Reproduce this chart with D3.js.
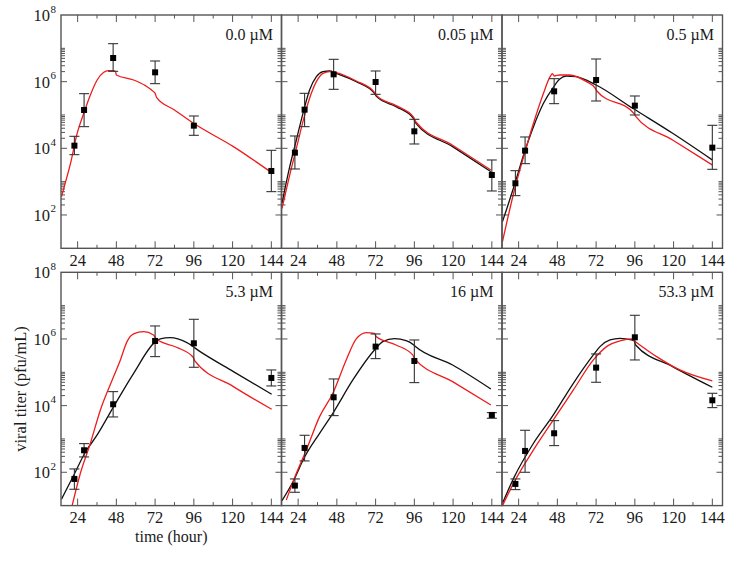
<!DOCTYPE html>
<html>
<head>
<meta charset="utf-8">
<script src="https://cdn.jsdelivr.net/npm/d3@7"></script>
<style>
  body { margin: 0; background: #fff; }
  svg { display: block; }
  text { font-family: "Liberation Serif", "Times New Roman", Times, "DejaVu Serif", serif; fill: #1a1a1a; }
</style>
</head>
<body>
<svg id="chart" width="750" height="563"></svg>
<script>
// ---------------- DATA ----------------
const concentrations = ["0.0 µM", "0.05 µM", "0.5 µM", "5.3 µM", "16 µM", "53.3 µM"];
const sampleTimes = [22, 28, 46, 72, 96, 144];               // hours
const xTickValues = [24, 48, 72, 96, 120, 144];
const yTickExponents = [2, 4, 6, 8];

// measured viral titer, log10(pfu/mL): mean, upper and lower error bar ends
const meanLog = [
  [4.08, 5.15, 6.71, 6.28, 4.68, 3.32],
  [3.87, 5.16, 6.22, 5.99, 4.51, 3.20],
  [2.95, 3.93, 5.71, 6.05, 5.28, 4.02],
  [1.80, 2.66, 4.04, 5.94, 5.87, 4.83],
  [1.60, 2.73, 4.25, 5.77, 5.34, 3.72],
  [1.65, 2.64, 3.17, 5.14, 6.05, 4.16]
];
const upperLog = [
  [4.36, 5.64, 7.14, 6.62, 4.97, 3.94],
  [4.37, 5.65, 6.67, 6.32, 4.87, 3.65],
  [3.33, 4.34, 6.09, 6.68, 5.57, 4.69],
  [2.10, 2.86, 4.42, 6.39, 6.59, 5.07],
  [1.80, 3.11, 4.80, 6.15, 5.97, 3.79],
  [1.80, 3.26, 3.55, 5.55, 6.71, 4.37]
];
const lowerLog = [
  [3.81, 4.65, 6.31, 5.94, 4.39, 2.70],
  [3.38, 4.65, 5.77, 5.62, 4.13, 2.72],
  [2.58, 3.54, 5.34, 5.42, 5.00, 3.37],
  [1.49, 2.46, 3.66, 5.47, 5.15, 4.59],
  [1.40, 2.34, 3.70, 5.41, 4.69, 3.62],
  [1.48, 2.00, 2.80, 4.70, 5.37, 3.94]
];

// model curves: [hour, log10 titer]
const blackCurves = [
  null,
  [[14,2.35],[18.8,3.45],[22.9,4.25],[27,5.05],[31.1,5.75],[35.3,6.15],[39.4,6.3],[43.5,6.32],[47.5,6.25],[60,6.0],[71.3,5.65],[72.7,5.55],[84.7,5.25],[95.4,4.9],[97,4.75],[119.7,4.05],[143.4,3.3]],
  [[14,1.8],[21.4,2.9],[27.4,3.85],[33.2,4.65],[39.4,5.35],[45.5,5.83],[49.3,6.07],[53.5,6.17],[59.6,6.15],[72,5.9],[94.7,5.2],[119.4,4.45],[144,3.65]],
  [[14,1.19],[22.2,1.97],[28.4,2.57],[36.1,3.12],[46.3,3.97],[58.7,4.97],[72.3,5.92],[75.2,6.0],[81.4,6.04],[91.7,5.89],[99.9,5.62],[120.5,5.02],[144.2,4.34]],
  [[14,1.15],[21.4,1.77],[27.6,2.42],[37.3,3.17],[45.5,3.77],[57.9,4.77],[71.7,5.69],[76.4,5.92],[83.7,6.01],[90.9,5.95],[95.6,5.82],[96.5,5.78],[119.7,5.22],[143.4,4.5]],
  [[14,1.07],[21.4,1.87],[33.2,2.87],[45.6,3.73],[46.4,3.79],[57.9,4.67],[70.3,5.52],[74.4,5.77],[80.6,5.97],[86.8,6.02],[94,5.97],[95.5,5.95],[96.5,5.82],[119.4,5.17],[144,4.55]]
];
const redCurves = [
  [[14,2.55],[16,2.9],[19.6,3.55],[23.7,4.45],[27.8,5.05],[31.9,5.6],[36.1,6.05],[40.2,6.28],[43,6.33],[46,6.33],[47.5,6.3],[48,6.2],[58.7,6.05],[66,5.88],[71,5.7],[72,5.65],[73,5.52],[84,5.15],[95.8,4.75],[120.5,4.05],[144.2,3.27]],
  [[14,2.2],[18.8,3.2],[22.9,4.0],[27,4.8],[31.1,5.5],[35.3,6.0],[39.4,6.25],[43.5,6.3],[47.5,6.27],[60,6.02],[71.3,5.68],[72.7,5.58],[84.7,5.28],[95.4,4.94],[97,4.79],[119.7,4.09],[143.4,3.35]],
  [[14,1.2],[21.4,2.75],[27.4,3.8],[33.2,4.75],[39.4,5.65],[43.5,6.15],[45,6.24],[46,6.17],[49.3,6.2],[55.5,6.2],[66,6.0],[71.5,5.8],[72.5,5.72],[95.5,5.04],[96.5,4.96],[119.4,4.25],[144,3.5]],
  [[20.6,1.0],[25.7,1.97],[31.9,2.87],[38.1,3.87],[46.3,4.87],[50.5,5.37],[54.6,5.92],[58.7,6.15],[64.9,6.22],[71,6.12],[72,6.05],[73,5.99],[85.3,5.75],[95.6,5.45],[96.5,5.35],[120.5,4.57],[144.2,3.89]],
  [[16.7,1.17],[22.9,1.97],[29.1,2.67],[37.3,3.67],[45.5,4.37],[53.8,5.37],[60,6.0],[66.2,6.19],[71.3,6.17],[72.3,6.07],[84.7,5.82],[95,5.52],[96,5.42],[119.7,4.72],[143.4,4.02]],
  [[14,1.0],[21.4,1.72],[33.2,2.67],[45.5,3.57],[57.9,4.47],[70.3,5.37],[78.5,5.77],[86.8,5.94],[94,6.0],[96,5.93],[109.5,5.47],[123.9,5.07],[144,4.74]]
];

// ---------------- LAYOUT ----------------
const svg = d3.select("#chart");
const colX = [61, 281.5, 502];
const rowY = [15, 272.3];
const W = 220.5, H = 233.3;
const frameColor = "#555";

const x = d3.scaleLinear().domain([13.7, 150.3]).range([0, W]);
const y = d3.scaleLog().domain([10, 1e8]).range([H, 0]);
const ly = v => y(Math.pow(10, v));

const defs = svg.append("defs");
defs.append("clipPath").attr("id", "clip").append("rect")
  .attr("x", 0).attr("y", 0).attr("width", W).attr("height", H);

const line = d3.line().x(d => x(d[0])).y(d => ly(d[1])).curve(d3.curveMonotoneX);

const minorX = d3.range(12, 151, 12).filter(t => t % 24 !== 0 && t > 13.7);
const majorY = [1e2, 1e4, 1e6];
const minorY = [];
[2, 4, 6].forEach(n => { for (let k = 2; k <= 10; k++) minorY.push(k * Math.pow(10, n)); });

concentrations.forEach((label, i) => {
  const col = i % 3, row = Math.floor(i / 3);
  const g = svg.append("g").attr("transform", `translate(${colX[col]},${rowY[row]})`);

  // ticks (inward on all four sides)
  const tk = g.append("g").attr("stroke", frameColor).attr("stroke-width", 1);
  xTickValues.forEach(t => {
    tk.append("line").attr("x1", x(t)).attr("x2", x(t)).attr("y1", H).attr("y2", H - 7);
    tk.append("line").attr("x1", x(t)).attr("x2", x(t)).attr("y1", 0).attr("y2", 7);
  });
  minorX.forEach(t => {
    tk.append("line").attr("x1", x(t)).attr("x2", x(t)).attr("y1", H).attr("y2", H - 3.5);
    tk.append("line").attr("x1", x(t)).attr("x2", x(t)).attr("y1", 0).attr("y2", 3.5);
  });
  majorY.forEach(v => {
    tk.append("line").attr("x1", 0).attr("x2", 6).attr("y1", y(v)).attr("y2", y(v));
    tk.append("line").attr("x1", W).attr("x2", W - 6).attr("y1", y(v)).attr("y2", y(v));
  });
  minorY.forEach(v => {
    tk.append("line").attr("x1", 0).attr("x2", 4).attr("y1", y(v)).attr("y2", y(v));
    tk.append("line").attr("x1", W).attr("x2", W - 4).attr("y1", y(v)).attr("y2", y(v));
  });

  // curves
  const cg = g.append("g").attr("clip-path", "url(#clip)");
  if (blackCurves[i]) {
    cg.append("path").datum(blackCurves[i]).attr("d", line)
      .attr("fill", "none").attr("stroke", "#111").attr("stroke-width", 1.3);
  }
  cg.append("path").datum(redCurves[i]).attr("d", line)
    .attr("fill", "none").attr("stroke", "#ee1c1c").attr("stroke-width", 1.3);

  // error bars
  const eg = g.append("g").attr("stroke", "#333").attr("stroke-width", 1.1);
  sampleTimes.forEach((t, j) => {
    const cx = x(t), y1 = ly(upperLog[i][j]), y2 = ly(lowerLog[i][j]);
    eg.append("line").attr("x1", cx).attr("x2", cx).attr("y1", y1).attr("y2", y2);
    eg.append("line").attr("x1", cx - 5).attr("x2", cx + 5).attr("y1", y1).attr("y2", y1);
    eg.append("line").attr("x1", cx - 5).attr("x2", cx + 5).attr("y1", y2).attr("y2", y2);
  });
  // markers
  g.append("g").selectAll("rect").data(sampleTimes).join("rect")
    .attr("x", t => x(t) - 3).attr("y", (t, j) => ly(meanLog[i][j]) - 3)
    .attr("width", 6).attr("height", 6).attr("fill", "#000");

  // frame
  g.append("rect").attr("x", 0).attr("y", 0).attr("width", W).attr("height", H)
    .attr("fill", "none").attr("stroke", frameColor).attr("stroke-width", 1.4);

  // concentration label
  g.append("text").attr("x", W - 8.5).attr("y", 25).attr("text-anchor", "end")
    .attr("font-size", 16).text(label);

  // x tick labels
  xTickValues.forEach(t => {
    g.append("text").attr("x", x(t)).attr("y", H + 17.5).attr("text-anchor", "middle")
      .attr("font-size", 16.5).text(t);
  });

  // y tick labels on the left column
  if (col === 0) {
    yTickExponents.forEach(e => {
      const yy = y(Math.pow(10, e));
      g.append("text").attr("x", -11).attr("y", yy + 6).attr("text-anchor", "end")
        .attr("font-size", 16.5).text("10");
      g.append("text").attr("x", -10.5).attr("y", yy - 2.5).attr("text-anchor", "start")
        .attr("font-size", 11).text(e);
    });
  }
});

// axis titles
svg.append("text").attr("x", colX[0] + W / 2).attr("y", 542).attr("text-anchor", "middle")
  .attr("font-size", 16).text("time (hour)");
svg.append("text").attr("transform", `translate(26,${rowY[1] + H / 2}) rotate(-90)`)
  .attr("text-anchor", "middle").attr("font-size", 16.5).text("viral titer (pfu/mL)");
</script>
</body>
</html>
